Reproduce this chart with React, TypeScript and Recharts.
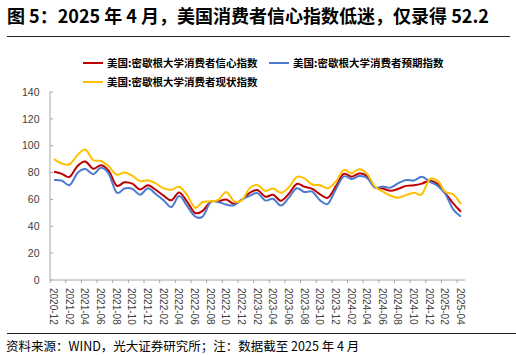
import React from 'react';
import { LineChart, Line, XAxis, YAxis, Legend } from 'recharts';

const months = [
  '2020-12', '2021-01', '2021-02', '2021-03', '2021-04', '2021-05', '2021-06', '2021-07', '2021-08', '2021-09', '2021-10', '2021-11', '2021-12',
  '2022-01', '2022-02', '2022-03', '2022-04', '2022-05', '2022-06', '2022-07', '2022-08', '2022-09', '2022-10', '2022-11', '2022-12',
  '2023-01', '2023-02', '2023-03', '2023-04', '2023-05', '2023-06', '2023-07', '2023-08', '2023-09', '2023-10', '2023-11', '2023-12',
  '2024-01', '2024-02', '2024-03', '2024-04', '2024-05', '2024-06', '2024-07', '2024-08', '2024-09', '2024-10', '2024-11', '2024-12',
  '2025-01', '2025-02', '2025-03', '2025-04',
];

// 美国:密歇根大学消费者信心指数
const sentiment = [
  80.7, 79.0, 76.8, 84.9, 88.3, 82.9, 85.5, 81.2, 70.3, 72.8, 71.7, 67.4, 70.6,
  67.2, 62.8, 59.4, 65.2, 58.4, 50.0, 51.5, 58.2, 58.6, 59.9, 56.8, 59.7,
  64.9, 67.0, 62.0, 63.5, 59.0, 64.2, 71.5, 69.4, 67.9, 63.8, 61.3, 69.7,
  79.0, 76.9, 79.4, 77.2, 69.1, 68.2, 66.4, 67.9, 70.1, 70.5, 71.8, 74.0,
  71.7, 64.7, 57.0, 50.8,
];

// 美国:密歇根大学消费者预期指数
const expectations = [
  74.6, 74.0, 70.7, 79.7, 82.7, 78.8, 83.5, 79.0, 65.1, 68.1, 67.9, 63.5, 68.3,
  64.1, 59.4, 54.3, 62.5, 55.2, 47.5, 47.3, 58.0, 58.0, 56.2, 55.6, 59.9,
  62.7, 64.7, 59.2, 60.5, 55.4, 61.3, 68.3, 65.5, 65.8, 59.3, 56.8, 67.4,
  77.1, 75.2, 77.4, 76.0, 68.8, 69.6, 68.8, 72.1, 74.4, 74.1, 76.9, 73.3,
  70.2, 64.0, 52.6, 47.2,
];

// 美国:密歇根大学消费者现状指数
const current = [
  90.0, 86.7, 86.2, 93.0, 97.2, 89.4, 88.6, 84.5, 78.5, 80.1, 77.7, 73.6, 74.2,
  72.0, 68.2, 67.2, 69.4, 63.3, 53.8, 58.1, 58.6, 59.7, 65.6, 58.8, 59.4,
  68.4, 70.7, 66.3, 68.2, 64.9, 69.0, 76.6, 75.7, 71.1, 70.6, 68.3, 73.3,
  81.9, 79.4, 82.5, 79.0, 69.6, 65.9, 62.7, 61.3, 63.3, 64.9, 63.9, 75.1,
  74.0, 65.7, 63.8, 56.5,
];

const yTicks = [0, 20, 40, 60, 80, 100, 120, 140];

const seriesNames = [
  '美国:密歇根大学消费者信心指数',
  '美国:密歇根大学消费者预期指数',
  '美国:密歇根大学消费者现状指数',
];
const seriesColors = ['#C00000', '#4A7BD0', '#FFC000'];

const data = months.map((m, i) => ({
  month: m,
  sentiment: sentiment[i],
  expectations: expectations[i],
  current: current[i],
}));

// Excel-like smoothed curve (Catmull-Rom as cubic Bezier)
function excelCurve(context: any) {
  let pts: number[][] = [];
  return {
    areaStart() {},
    areaEnd() {},
    lineStart() {
      pts = [];
    },
    point(x: number, y: number) {
      pts.push([+x, +y]);
    },
    lineEnd() {
      const n = pts.length;
      if (!n) return;
      context.moveTo(pts[0][0], pts[0][1]);
      if (n === 1) return;
      for (let i = 0; i < n - 1; i++) {
        const p0 = pts[Math.max(i - 1, 0)];
        const p1 = pts[i];
        const p2 = pts[i + 1];
        const p3 = pts[Math.min(i + 2, n - 1)];
        const c1x = p1[0] + (p2[0] - p0[0]) / 6;
        const c1y = p1[1] + (p2[1] - p0[1]) / 6;
        const c2x = p2[0] - (p3[0] - p1[0]) / 6;
        const c2y = p2[1] - (p3[1] - p1[1]) / 6;
        context.bezierCurveTo(c1x, c1y, c2x, c2y, p2[0], p2[1]);
      }
    },
  };
}

const tickFont = '"Liberation Sans", Arial, sans-serif';
const cjkFont = '"Noto Sans CJK SC", "Noto Sans", sans-serif';

const XTick = (props: any) => {
  const { x, y, payload } = props;
  const bx = x - 3.9;
  return (
    <g>
      <line x1={bx} x2={bx} y1={y} y2={y + 3} stroke="#a6a6a6" strokeWidth={1} />
      <text
        x={bx}
        y={y + 8}
        transform={`rotate(90, ${bx}, ${y + 8})`}
        textAnchor="start"
        fontSize={10}
        fontFamily={tickFont}
        fill="#404040"
      >
        {payload.value}
      </text>
    </g>
  );
};

const YTick = (props: any) => {
  const { x, y, payload } = props;
  return (
    <g>
      <line x1={x} x2={x + 3} y1={y} y2={y} stroke="#a6a6a6" strokeWidth={1} />
      <text
        x={x - 10.5}
        y={y}
        dy="0.35em"
        textAnchor="end"
        fontSize={10.5}
        fontFamily={tickFont}
        fill="#404040"
      >
        {payload.value}
      </text>
    </g>
  );
};

const legendPos = [
  { left: 83, top: 63 },
  { left: 269, top: 63 },
  { left: 83, top: 82 },
];

const renderLegend = () => (
  <div style={{ position: 'relative', width: 516, height: 0 }}>
    {seriesNames.map((name, i) => (
      <div
        key={name}
        style={{
          position: 'absolute',
          left: legendPos[i].left,
          top: legendPos[i].top - 7,
          height: 14,
          display: 'flex',
          alignItems: 'center',
          whiteSpace: 'nowrap',
        }}
      >
        <svg width={20} height={4} style={{ display: 'block' }}>
          <line x1={0} x2={20} y1={2} y2={2} stroke={seriesColors[i]} strokeWidth={2} />
        </svg>
        <span
          style={{
            marginLeft: 4,
            fontSize: 10.5,
            lineHeight: '14px',
            fontWeight: 'bold',
            fontFamily: cjkFont,
            color: '#000',
          }}
        >
          {name}
        </span>
      </div>
    ))}
  </div>
);

export default function App() {
  return (
    <div
      style={{
        position: 'absolute',
        left: 0,
        top: 0,
        width: 516,
        height: 355,
        background: '#fff',
        overflow: 'hidden',
      }}
    >
      <div
        style={{
          position: 'absolute',
          left: 7,
          top: 4,
          fontSize: 18,
          lineHeight: '22px',
          fontWeight: 'bold',
          fontFamily: cjkFont,
          color: '#000',
          whiteSpace: 'nowrap',
        }}
      >
        图 5：2025 年 4 月，美国消费者信心指数低迷，仅录得 52.2
      </div>
      <div style={{ position: 'absolute', left: 7, top: 35.5, width: 503, height: 1, background: '#222' }} />

      <div style={{ position: 'absolute', left: 0, top: 0 }}>
        <LineChart
          width={516}
          height={355}
          data={data}
          margin={{ top: 92, right: 51, bottom: 0, left: 0 }}
        >
          <XAxis
            dataKey="month"
            scale="point"
            padding={{ left: 4, right: 4 }}
            interval={1}
            height={75}
            tickLine={false}
            tickSize={0}
            tickMargin={0}
            axisLine={{ stroke: '#a6a6a6', strokeWidth: 1 }}
            tick={<XTick />}
          />
          <YAxis
            domain={[0, 140]}
            ticks={yTicks}
            width={50}
            tickLine={false}
            tickSize={0}
            tickMargin={0}
            axisLine={{ stroke: '#a6a6a6', strokeWidth: 1 }}
            tick={<YTick />}
            interval={0}
          />
          <Legend
            layout="vertical"
            align="center"
            verticalAlign="middle"
            content={renderLegend}
            wrapperStyle={{ position: 'absolute', left: 0, top: 0, width: 516, height: 0 }}
          />
          <Line
            dataKey="sentiment"
            name={seriesNames[0]}
            stroke={seriesColors[0]}
            strokeWidth={2}
            dot={false}
            activeDot={false}
            type={excelCurve as any}
            isAnimationActive={false}
          />
          <Line
            dataKey="expectations"
            name={seriesNames[1]}
            stroke={seriesColors[1]}
            strokeWidth={2}
            dot={false}
            activeDot={false}
            type={excelCurve as any}
            isAnimationActive={false}
          />
          <Line
            dataKey="current"
            name={seriesNames[2]}
            stroke={seriesColors[2]}
            strokeWidth={2}
            dot={false}
            activeDot={false}
            type={excelCurve as any}
            isAnimationActive={false}
          />
        </LineChart>
      </div>

      <div style={{ position: 'absolute', left: 7, top: 333, width: 509, height: 1, background: '#222' }} />
      <div
        style={{
          position: 'absolute',
          left: 6,
          top: 338,
          fontSize: 12.5,
          lineHeight: '15px',
          fontFamily: cjkFont,
          color: '#000',
          whiteSpace: 'nowrap',
        }}
      >
        资料来源：WIND，光大证券研究所；注：数据截至 2025 年 4 月
      </div>
    </div>
  );
}
